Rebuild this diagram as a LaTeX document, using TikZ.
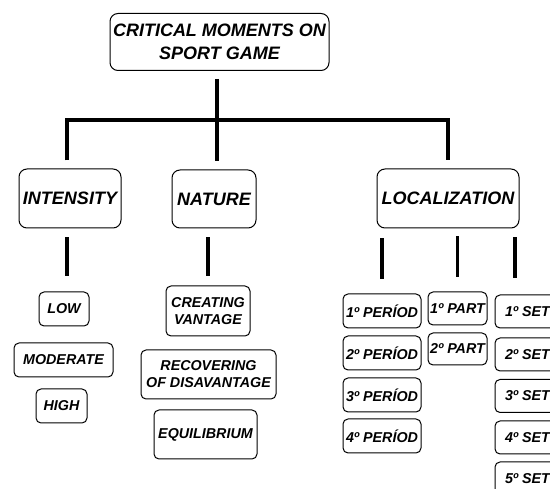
\documentclass[tikz,border=0pt]{standalone}
\usepackage{fontspec}
\setmainfont{Liberation Sans}
\usepackage{tikz}
\usetikzlibrary{calc}
\definecolor{ink}{HTML}{000000}
\tikzset{
  wire/.style={draw=ink, line width=3.4pt},
  mainbox/.style={draw=ink, line width=1pt, rounded corners=8pt, align=center, inner sep=0pt,
    font=\fontsize{18}{23}\selectfont\bfseries\itshape},
  itembox/.style={draw=ink, line width=1pt, rounded corners=5pt, align=center, inner sep=0pt,
    font=\fontsize{14.3}{17}\selectfont\bfseries\itshape}
}
\begin{document}
\begin{tikzpicture}[x=1pt, y=-1pt]
  \useasboundingbox (0,0) rectangle (550,489);
  \clip (0,0) rectangle (550,489);

  % top level and categories
  \node[mainbox, minimum width=219pt, minimum height=57pt] (root) at (219.5,42) {CRITICAL MOMENTS ON\\SPORT GAME};
  \node[mainbox, minimum width=102pt, minimum height=59pt] (intensity) at (70,198.5) {INTENSITY};
  \node[mainbox, minimum width=84pt, minimum height=58pt] (nature) at (214,199) {NATURE};
  \node[mainbox, minimum width=142pt, minimum height=59pt] (localization) at (448,198.5) {LOCALIZATION};

  % intensity
  \node[itembox, minimum width=50pt, minimum height=34pt] (low) at (64,309) {LOW};
  \node[itembox, minimum width=99pt, minimum height=34pt] (moderate) at (63.5,360) {MODERATE};
  \node[itembox, minimum width=51pt, minimum height=34pt] (high) at (61.5,406) {HIGH};

  % nature
  \node[itembox, minimum width=84pt, minimum height=50pt] (creating) at (208,311) {CREATING\\VANTAGE};
  \node[itembox, minimum width=135pt, minimum height=49pt] (recovering) at (208.5,374.5) {RECOVERING\\OF DISAVANTAGE};
  \node[itembox, minimum width=103pt, minimum height=49pt] (equilibrium) at (205.5,434.5) {EQUILIBRIUM};

  % localization
  \node[itembox, minimum width=78pt, minimum height=34pt] (per1) at (382,311) {1º PERÍOD};
  \node[itembox, minimum width=78pt, minimum height=34pt] (per2) at (382,353) {2º PERÍOD};
  \node[itembox, minimum width=78pt, minimum height=34pt] (per3) at (382,395) {3º PERÍOD};
  \node[itembox, minimum width=78pt, minimum height=34pt] (per4) at (382,436) {4º PERÍOD};
  \node[itembox, minimum width=59pt, minimum height=33pt] (part1) at (457.5,308.5) {1º PART};
  \node[itembox, minimum width=59pt, minimum height=32pt] (part2) at (457.5,349) {2º PART};
  \node[itembox, minimum width=65pt, minimum height=33pt] (set1) at (527.5,311.5) {1º SET};
  \node[itembox, minimum width=65pt, minimum height=33pt] (set2) at (527.5,354.5) {2º SET};
  \node[itembox, minimum width=65pt, minimum height=33pt] (set3) at (527.5,396) {3º SET};
  \node[itembox, minimum width=65pt, minimum height=33pt] (set4) at (527.5,437.5) {4º SET};
  \node[itembox, minimum width=65pt, minimum height=33pt] (set5) at (527.5,478.5) {5º SET};

  \coordinate (fork) at (217,120);
  \coordinate (setcol) at (515,295);

  % tree
  \draw[wire, shorten <=8pt] (root.south -| fork) -- (fork);
  \draw[wire, shorten <=8pt, shorten >=8pt] ([xshift=-3pt]intensity.north) |- (fork) -| (localization.north);
  \draw[wire, shorten >=8pt] (fork) -- (fork |- nature.north);

  \draw[wire, shorten <=9pt, shorten >=15pt] ([xshift=-3pt]intensity.south) -- ([xshift=-3pt]intensity.south |- low.north);
  \draw[wire, shorten <=9pt, shorten >=9pt] (nature.south -| creating.north) -- (creating.north);
  \draw[wire, shorten <=10pt, shorten >=14pt] (localization.south -| per1.north) -- (per1.north);
  \draw[wire, shorten <=8pt, shorten >=14pt] (localization.south -| part1.north) -- (part1.north);
  \draw[wire, shorten <=9pt, shorten >=17pt] (localization.south -| setcol) -- (setcol);
\end{tikzpicture}
\end{document}
